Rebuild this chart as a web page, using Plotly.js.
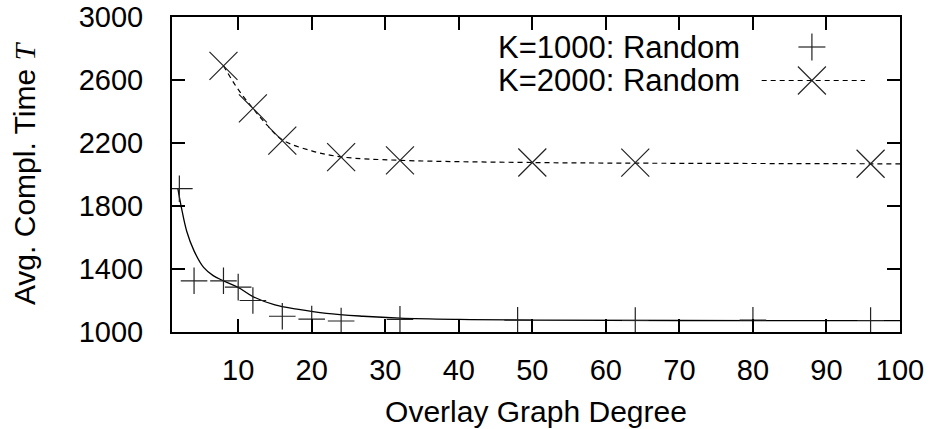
<!DOCTYPE html>
<html>
<head>
<meta charset="utf-8">
<script src="https://cdn.plot.ly/plotly-3.0.1.min.js"></script>
<style>html,body{margin:0;padding:0;background:#fff;}#chart{width:935px;height:429px;}</style>
</head>
<body>
<div id="chart"></div>
<script>
// Measured points, K=1000 (Random)
const k1000Degree = [2, 4, 8, 10, 12, 16, 20, 24, 32, 48, 64, 80, 96];
const k1000Time   = [1910, 1325, 1325, 1285, 1200, 1100, 1082, 1070, 1080, 1075, 1073, 1075, 1073];
// Fitted curve, K=1000
const fit1000Degree = [1.8, 2.3, 3, 4, 5.3, 6.6, 8, 10, 12, 15, 18, 22, 27, 32, 40, 50, 70, 100];
const fit1000Time   = [1910, 1785, 1640, 1515, 1410, 1358, 1325, 1283, 1225, 1172, 1145, 1118, 1100, 1088, 1080, 1075, 1073, 1072];
// Measured points, K=2000 (Random)
const k2000Degree = [8, 12, 16, 24, 32, 50, 64, 96];
const k2000Time   = [2690, 2420, 2215, 2110, 2090, 2076, 2075, 2068];
// Fitted curve, K=2000
const fit2000Degree = [8, 10, 12, 14, 16, 20, 24, 32, 50, 64, 96, 100];
const fit2000Time   = [2690, 2540, 2420, 2310, 2220, 2150, 2112, 2090, 2076, 2072, 2068, 2067];
// Axis ticks
const xTicks = [10, 20, 30, 40, 50, 60, 70, 80, 90, 100];
const yTicks = [1000, 1400, 1800, 2200, 2600, 3000];
const seriesNames = ['K=1000: Random', 'K=2000: Random'];

const FONT = 'Liberation Sans, Arial, sans-serif';
const FS = 30;
const TFS = 29;
const LFS = 31;

const traces = [
  {x: fit1000Degree, y: fit1000Time, mode: 'lines', line: {color: '#000', width: 1.3, shape: 'spline'}, showlegend: false, hoverinfo: 'skip'},
  {x: k1000Degree, y: k1000Time, mode: 'markers', name: seriesNames[0],
   marker: {symbol: 'cross-thin-open', size: 19, color: '#222', line: {color: '#222', width: 1.2}}, showlegend: false},
  {x: fit2000Degree, y: fit2000Time, mode: 'lines', line: {color: '#000', width: 1.2, dash: '5px,4px', shape: 'spline'}, showlegend: false, hoverinfo: 'skip'},
  {x: k2000Degree, y: k2000Time, mode: 'markers', name: seriesNames[1],
   marker: {symbol: 'x-thin-open', size: 28, color: '#222', line: {color: '#222', width: 1.2}}, showlegend: false}
];

// legend geometry (paper coords)
const pw = 728, ph = 315;
const ly1 = (332 - 47) / ph, ly2 = (332 - 80.5) / ph;
const lx = 0.879;
const ax = 13.5 / pw, ay = 13.5 / ph;
const bx = 14 / pw, by = 14 / ph;

const layout = {
  width: 935, height: 429,
  margin: {l: 172, r: 35, t: 17, b: 97},
  paper_bgcolor: '#fff', plot_bgcolor: '#fff',
  font: {family: FONT, size: FS, color: '#000'},
  showlegend: false,
  xaxis: {
    range: [1, 100], tickvals: xTicks, ticktext: xTicks.map(String),
    ticks: 'inside', ticklen: 13, tickwidth: 2, tickcolor: '#000',
    showline: true, linewidth: 2, linecolor: '#000', mirror: 'ticks',
    showgrid: false, zeroline: false, ticklabelstandoff: 11, ticklabeloverflow: 'allow',
    tickfont: {family: FONT, size: TFS, color: '#000'},
    title: {text: 'Overlay Graph Degree', font: {family: FONT, size: FS, color: '#000'}, standoff: 16}
  },
  yaxis: {
    range: [1000, 3000], tickvals: yTicks, ticktext: yTicks.map(String),
    ticks: 'inside', ticklen: 13, tickwidth: 2, tickcolor: '#000',
    showline: true, linewidth: 2, linecolor: '#000', mirror: 'ticks',
    showgrid: false, zeroline: false, ticklabelstandoff: 21, ticklabeloverflow: 'allow',
    tickfont: {family: FONT, size: TFS, color: '#000'},
    title: {text: 'Avg. Compl. Time <span style="font-family:\'Liberation Serif\', serif"><i>T</i></span>', font: {family: FONT, size: FS, color: '#000'}, standoff: 34}
  },
  annotations: [
    {xref: 'paper', yref: 'paper', x: 0.783, y: ly1, xanchor: 'right', yanchor: 'middle', text: seriesNames[0], showarrow: false, font: {family: FONT, size: LFS, color: '#000'}},
    {xref: 'paper', yref: 'paper', x: 0.783, y: ly2, xanchor: 'right', yanchor: 'middle', text: seriesNames[1], showarrow: false, font: {family: FONT, size: LFS, color: '#000'}}
  ],
  shapes: [
    {type: 'line', xref: 'paper', yref: 'paper', x0: lx - ax, x1: lx + ax, y0: ly1, y1: ly1, line: {color: '#222', width: 1.2}},
    {type: 'line', xref: 'paper', yref: 'paper', x0: lx, x1: lx, y0: ly1 - ay, y1: ly1 + ay, line: {color: '#222', width: 1.2}},
    {type: 'line', xref: 'paper', yref: 'paper', x0: 0.810, x1: 0.952, y0: ly2, y1: ly2, line: {color: '#000', width: 1.2, dash: '5px,4px'}},
    {type: 'line', xref: 'paper', yref: 'paper', x0: lx - bx, x1: lx + bx, y0: ly2 - by, y1: ly2 + by, line: {color: '#222', width: 1.2}},
    {type: 'line', xref: 'paper', yref: 'paper', x0: lx - bx, x1: lx + bx, y0: ly2 + by, y1: ly2 - by, line: {color: '#222', width: 1.2}}
  ]
};

Plotly.newPlot('chart', traces, layout, {staticPlot: true, displayModeBar: false});
</script>
</body>
</html>
